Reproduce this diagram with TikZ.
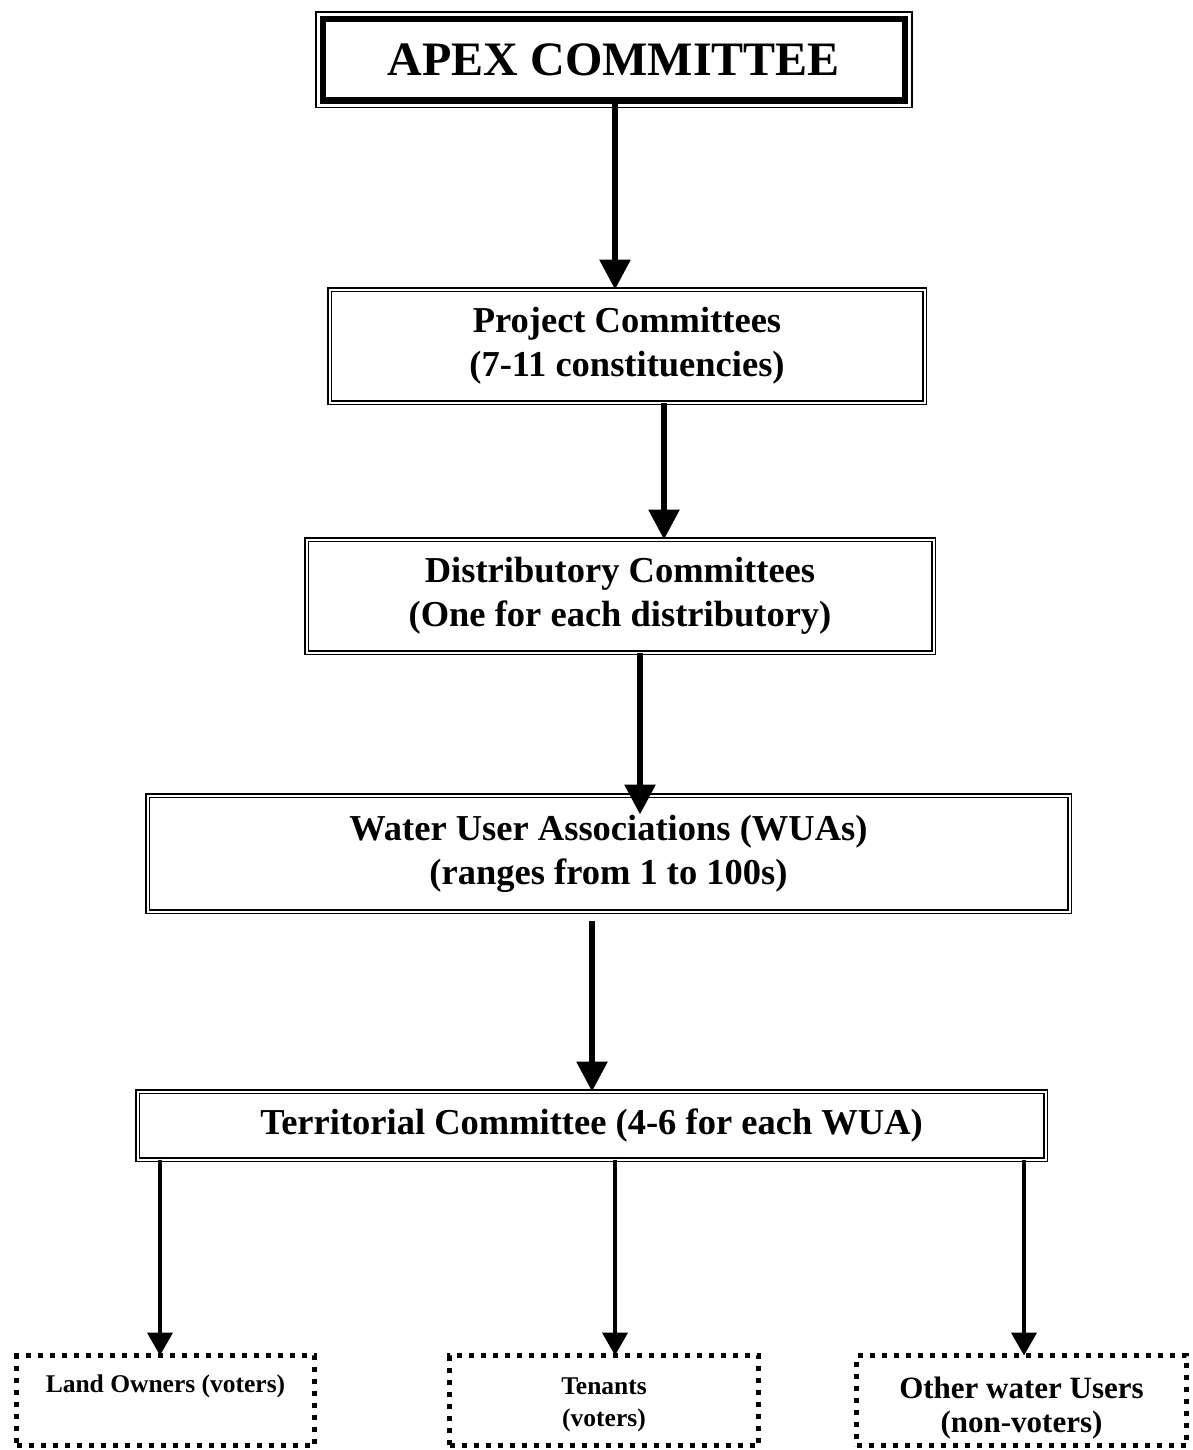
\documentclass[tikz,border=0pt]{standalone}
\usepackage{fontspec}
\setmainfont{Liberation Serif}
\usepackage{tikz}
\usetikzlibrary{arrows.meta,positioning}

\begin{document}
\begin{tikzpicture}[x=1pt, y=-1pt,
  tier/.style={draw, double, line width=1.4pt, double distance=2pt,
               align=center, outer sep=0pt, inner sep=0pt,
               font=\bfseries\fontsize{36.5}{44}\selectfont},
  voter/.style={draw, line width=5pt, dash pattern=on 5pt off 7pt,
                align=center, outer sep=0pt, inner sep=0pt},
  arr/.style={-{Triangle[width=30pt,length=30pt]}, line width=6pt},
  arrsm/.style={-{Triangle[width=25pt,length=23pt]}, line width=4pt}
]
\useasboundingbox (0,0) rectangle (1192,1450);
% top of the hierarchy
\node[draw, line width=6.5pt, outer sep=0pt, minimum width=582pt,
      minimum height=81.5pt, font=\bfseries\fontsize{48}{58}\selectfont]
      (apex) at (614,60) {APEX COMMITTEE};
\draw[line width=1.5pt] ([shift={(-7,-7)}]apex.north west)
  rectangle ([shift={(7,7)}]apex.south east);
\node[tier, minimum width=595pt, minimum height=113pt] (proj) at (627,346)
  {Project Committees\\(7-11 constituencies)};
\node[tier, minimum width=627pt, minimum height=113pt] (dist) at (620,596)
  {Distributory Committees\\(One for each distributory)};
\node[tier, minimum width=922pt, minimum height=116pt] (wua) at (608.5,853.5)
  {Water User Associations (WUAs)\\(ranges from 1 to 100s)};
\node[tier, minimum width=908pt, minimum height=68pt] (terr) at (591.5,1125.5)
  {Territorial Committee (4-6 for each WUA)};
% members
\node[voter, minimum width=298pt, minimum height=90pt, text depth=33pt,
      font=\bfseries\fontsize{25.5}{32}\selectfont] (land) at (165.5,1400.5)
  {Land Owners (voters)};
\node[voter, minimum width=309pt, minimum height=90pt,
      font=\bfseries\fontsize{25.5}{32}\selectfont] (tenant) at (604,1400.5)
  {\rule{0pt}{26pt}Tenants\\(voters)};
\node[voter, minimum width=330pt, minimum height=90pt,
      font=\bfseries\fontsize{31}{34}\selectfont] (other) at (1021.5,1400.5)
  {\rule{0pt}{36pt}Other water Users\\(non-voters)};
% links
\draw[arr] ([xshift=1pt]apex.south) -- ([xshift=1pt]apex.south |- proj.north);
\draw[arr] ([xshift=37pt]proj.south) -- ([xshift=37pt]proj.south |- dist.north);
\draw[arr, shorten >=-19pt] ([xshift=20pt]dist.south)
  -- ([xshift=20pt]dist.south |- wua.north);
\draw[arr, shorten <=9pt] ([xshift=-16.5pt]wua.south)
  -- ([xshift=-16.5pt]wua.south |- terr.north);
\foreach \b/\dx in {land/-5.5pt, tenant/11pt, other/2.5pt}
  \draw[arrsm] ([xshift=\dx]terr.south -| \b.north) -- ([xshift=\dx]\b.north);
\end{tikzpicture}
\end{document}
